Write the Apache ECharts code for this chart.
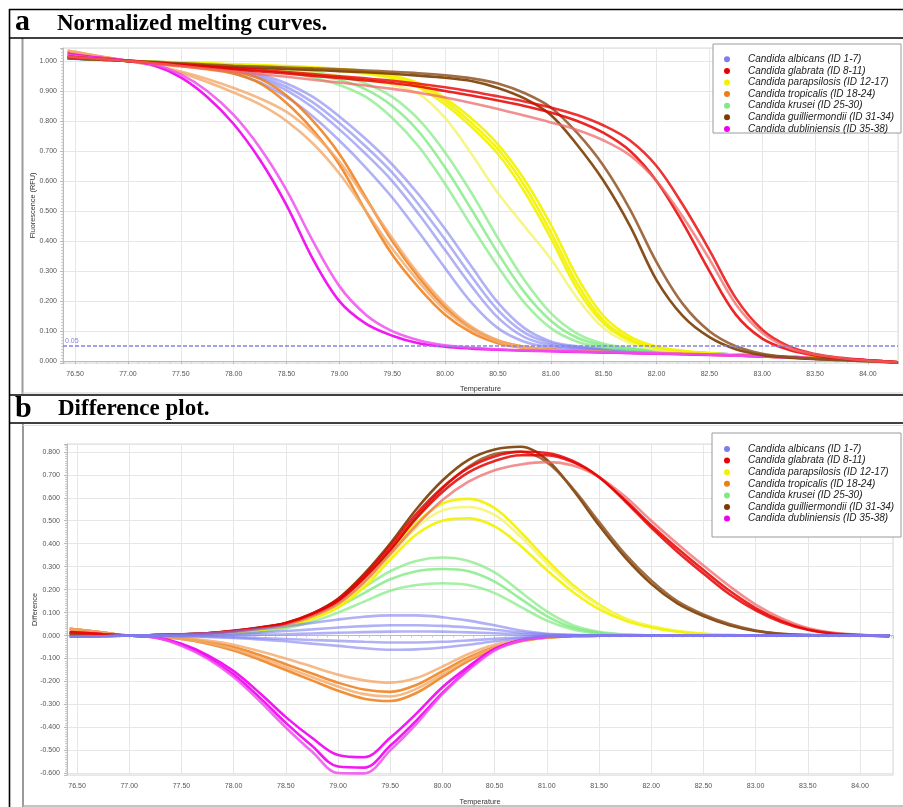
<!DOCTYPE html>
<html><head><meta charset="utf-8">
<script src="https://cdn.jsdelivr.net/npm/echarts@6/dist/echarts.min.js"></script>
<style>html,body{margin:0;padding:0;background:#fff}#c{width:903px;height:807px}</style>
</head><body><div id="c"></div>
<script>
// Temperature grid (°C)
const T = [76.43,76.5,76.75,77,77.25,77.5,77.75,78,78.25,78.5,78.75,79,79.25,79.5,79.75,80,80.25,80.5,80.75,81,81.25,81.5,81.75,82,82.25,82.5,82.75,83,83.25,83.5,83.75,84,84.28];

const NAMES = ['Candida albicans (ID 1-7)','Candida glabrata (ID 8-11)','Candida parapsilosis (ID 12-17)','Candida tropicalis (ID 18-24)','Candida krusei (ID 25-30)','Candida guilliermondii (ID 31-34)','Candida dubliniensis (ID 35-38)'];

// ---- Panel a: normalized melting curves (RFU) ----
const albA1 = [1.008,1.007,1.004,1.000,0.996,0.988,0.976,0.958,0.928,0.880,0.815,0.735,0.645,0.545,0.430,0.310,0.195,0.110,0.065,0.046,0.040,0.036,0.033,0.030,0.027,0.024,0.021,0.018,0.015,0.011,0.007,0.003,-0.004];
const albA2 = [1.008,1.007,1.004,1.000,0.997,0.990,0.980,0.966,0.942,0.902,0.845,0.772,0.690,0.600,0.490,0.370,0.250,0.145,0.080,0.053,0.043,0.038,0.034,0.031,0.028,0.025,0.022,0.018,0.015,0.011,0.007,0.003,-0.004];
const albA3 = [1.008,1.007,1.004,1.000,0.998,0.993,0.985,0.974,0.955,0.925,0.880,0.815,0.740,0.655,0.555,0.440,0.315,0.195,0.110,0.066,0.050,0.042,0.036,0.032,0.029,0.026,0.022,0.018,0.015,0.011,0.007,0.003,-0.004];
const albA4 = [1.008,1.007,1.004,1.000,0.997,0.991,0.982,0.970,0.948,0.913,0.862,0.793,0.715,0.628,0.522,0.405,0.282,0.170,0.095,0.060,0.047,0.040,0.035,0.031,0.028,0.025,0.022,0.018,0.015,0.011,0.007,0.003,-0.004];
const glaA1 = [1.015,1.012,1.006,1.000,0.993,0.986,0.979,0.972,0.965,0.958,0.950,0.943,0.935,0.926,0.915,0.900,0.885,0.868,0.850,0.828,0.800,0.760,0.700,0.600,0.460,0.300,0.155,0.075,0.038,0.019,0.009,0.002,-0.004];
const glaA2 = [1.015,1.012,1.006,1.000,0.994,0.988,0.982,0.976,0.970,0.963,0.956,0.949,0.942,0.934,0.924,0.912,0.898,0.882,0.865,0.845,0.820,0.785,0.735,0.650,0.520,0.370,0.210,0.105,0.050,0.024,0.011,0.003,-0.004];
const glaA3 = [1.015,1.012,1.006,1.000,0.992,0.983,0.974,0.965,0.956,0.947,0.937,0.928,0.918,0.907,0.894,0.878,0.860,0.840,0.818,0.795,0.770,0.735,0.685,0.600,0.480,0.340,0.190,0.095,0.045,0.022,0.010,0.002,-0.004];
const parA1 = [1.012,1.010,1.005,1.000,0.996,0.993,0.990,0.986,0.983,0.979,0.974,0.967,0.958,0.942,0.912,0.855,0.780,0.690,0.565,0.410,0.240,0.125,0.068,0.042,0.031,0.025,0.020,0.017,0.014,0.011,0.007,0.003,-0.004];
const parA2 = [1.012,1.010,1.005,1.000,0.995,0.990,0.985,0.980,0.975,0.968,0.960,0.950,0.937,0.920,0.890,0.810,0.690,0.560,0.450,0.340,0.210,0.110,0.060,0.038,0.028,0.022,0.018,0.015,0.012,0.009,0.006,0.002,-0.004];
const parA3 = [1.012,1.010,1.005,1.000,0.997,0.995,0.992,0.989,0.986,0.983,0.979,0.973,0.965,0.951,0.926,0.876,0.808,0.722,0.605,0.455,0.280,0.150,0.082,0.049,0.035,0.027,0.021,0.017,0.014,0.011,0.007,0.003,-0.004];
const parA4 = [1.012,1.010,1.005,1.000,0.996,0.994,0.991,0.988,0.985,0.981,0.976,0.970,0.962,0.947,0.920,0.866,0.793,0.706,0.585,0.430,0.258,0.135,0.073,0.045,0.033,0.026,0.020,0.017,0.014,0.011,0.007,0.003,-0.004];
const troA1 = [1.030,1.026,1.013,1.000,0.990,0.982,0.972,0.958,0.925,0.860,0.770,0.655,0.500,0.355,0.245,0.155,0.095,0.060,0.044,0.037,0.033,0.030,0.028,0.026,0.024,0.022,0.019,0.016,0.013,0.010,0.007,0.003,-0.004];
const troA2 = [1.030,1.026,1.013,1.000,0.991,0.984,0.976,0.965,0.940,0.885,0.800,0.690,0.545,0.400,0.280,0.180,0.110,0.068,0.048,0.039,0.034,0.031,0.029,0.027,0.025,0.022,0.019,0.016,0.013,0.010,0.007,0.003,-0.004];
const troA3 = [1.035,1.030,1.015,1.000,0.985,0.965,0.940,0.910,0.875,0.830,0.760,0.665,0.540,0.410,0.290,0.190,0.115,0.070,0.048,0.038,0.034,0.031,0.029,0.027,0.025,0.022,0.019,0.016,0.013,0.010,0.007,0.003,-0.004];
const troA4 = [1.035,1.030,1.015,1.000,0.983,0.960,0.930,0.895,0.855,0.800,0.725,0.625,0.500,0.375,0.265,0.170,0.105,0.065,0.045,0.037,0.033,0.030,0.028,0.026,0.024,0.022,0.019,0.016,0.013,0.010,0.007,0.003,-0.004];
const kruA1 = [1.010,1.008,1.004,1.000,0.996,0.992,0.988,0.983,0.977,0.968,0.955,0.937,0.905,0.850,0.765,0.645,0.505,0.360,0.230,0.135,0.078,0.052,0.041,0.035,0.030,0.026,0.022,0.018,0.015,0.011,0.007,0.003,-0.004];
const kruA2 = [1.010,1.008,1.004,1.000,0.995,0.990,0.985,0.978,0.971,0.962,0.945,0.920,0.880,0.810,0.715,0.590,0.450,0.315,0.195,0.110,0.065,0.046,0.038,0.033,0.029,0.025,0.021,0.018,0.015,0.011,0.007,0.003,-0.004];
const kruA3 = [1.010,1.008,1.004,1.000,0.997,0.994,0.991,0.987,0.982,0.975,0.965,0.948,0.925,0.880,0.805,0.695,0.560,0.410,0.270,0.160,0.092,0.058,0.044,0.036,0.031,0.026,0.022,0.018,0.015,0.011,0.007,0.003,-0.004];
const guiA1 = [1.010,1.008,1.004,1.000,0.995,0.990,0.985,0.980,0.977,0.973,0.970,0.966,0.962,0.957,0.951,0.944,0.933,0.910,0.875,0.820,0.720,0.600,0.450,0.270,0.150,0.080,0.040,0.021,0.012,0.007,0.004,0.000,-0.004];
const guiA2 = [1.010,1.008,1.004,1.000,0.996,0.992,0.988,0.984,0.981,0.978,0.975,0.972,0.968,0.964,0.959,0.952,0.942,0.925,0.893,0.845,0.760,0.650,0.505,0.330,0.190,0.100,0.050,0.025,0.014,0.008,0.004,0.000,-0.004];
const dubA1 = [1.025,1.020,1.010,1.000,0.985,0.945,0.880,0.790,0.670,0.520,0.340,0.200,0.125,0.085,0.060,0.048,0.042,0.038,0.035,0.033,0.031,0.029,0.027,0.025,0.023,0.021,0.019,0.016,0.013,0.010,0.007,0.003,-0.004];
const dubA2 = [1.020,1.017,1.008,1.000,0.988,0.955,0.900,0.820,0.710,0.570,0.400,0.250,0.155,0.100,0.070,0.053,0.045,0.040,0.036,0.034,0.032,0.030,0.028,0.026,0.024,0.022,0.019,0.016,0.013,0.010,0.007,0.003,-0.004];

// ---- Panel b: difference plot ----
const albB1 = [-0.005,-0.005,-0.003,0.000,0.002,0.005,0.010,0.018,0.028,0.040,0.055,0.070,0.082,0.088,0.088,0.080,0.065,0.045,0.022,0.008,0.003,0.001,0,0,0,0,0,0,0,0,0,0,0];
const albB2 = [-0.005,-0.005,-0.003,0.000,0.001,0.002,0.004,0.008,0.013,0.020,0.027,0.035,0.041,0.045,0.045,0.042,0.035,0.025,0.013,0.005,0.002,0.001,0,0,0,0,0,0,0,0,0,0,0];
const albB3 = [-0.005,-0.005,-0.003,0.000,0.000,0.000,0.001,0.002,0.004,0.006,0.009,0.012,0.015,0.017,0.018,0.017,0.014,0.010,0.005,0.002,0.001,0,0,0,0,0,0,0,0,0,0,0,0];
const albB4 = [-0.005,-0.005,-0.003,0.000,-0.001,-0.002,-0.004,-0.007,-0.011,-0.015,-0.019,-0.023,-0.027,-0.030,-0.030,-0.027,-0.021,-0.014,-0.007,-0.003,-0.001,0,0,0,0,0,0,0,0,0,0,0,0];
const albB5 = [-0.005,-0.005,-0.003,0.000,-0.001,-0.003,-0.006,-0.010,-0.017,-0.025,-0.035,-0.045,-0.055,-0.062,-0.060,-0.052,-0.040,-0.025,-0.012,-0.004,-0.001,0,0,0,0,0,0,0,0,0,0,0,0];
const glaB1 = [0.015,0.013,0.006,0.000,0.002,0.005,0.010,0.020,0.033,0.052,0.090,0.150,0.250,0.375,0.510,0.625,0.710,0.760,0.785,0.785,0.755,0.690,0.590,0.480,0.380,0.285,0.195,0.120,0.065,0.028,0.010,0.002,-0.003];
const glaB2 = [0.015,0.013,0.006,0.000,0.002,0.005,0.009,0.018,0.030,0.048,0.083,0.138,0.232,0.355,0.480,0.590,0.670,0.720,0.745,0.755,0.740,0.690,0.605,0.500,0.400,0.305,0.215,0.135,0.075,0.033,0.012,0.003,-0.003];
const glaB3 = [0.015,0.013,0.006,0.000,0.002,0.005,0.010,0.021,0.035,0.055,0.095,0.158,0.262,0.390,0.530,0.645,0.730,0.780,0.800,0.795,0.760,0.690,0.585,0.470,0.365,0.270,0.180,0.110,0.058,0.025,0.008,0.002,-0.003];
const parB1 = [0,0,0,0,0.001,0.004,0.008,0.015,0.027,0.045,0.080,0.135,0.230,0.360,0.490,0.575,0.595,0.555,0.450,0.330,0.220,0.135,0.075,0.040,0.020,0.008,0.003,0,0,0,0,0,0];
const parB2 = [0,0,0,0,0.001,0.004,0.008,0.014,0.026,0.043,0.077,0.130,0.222,0.345,0.470,0.545,0.560,0.525,0.430,0.315,0.210,0.130,0.072,0.038,0.019,0.008,0.003,0,0,0,0,0,0];
const parB3 = [0,0,0,0,0.001,0.003,0.007,0.013,0.024,0.040,0.072,0.122,0.210,0.330,0.440,0.500,0.510,0.475,0.390,0.285,0.190,0.115,0.065,0.035,0.017,0.007,0.002,0,0,0,0,0,0];
const troB1 = [0.030,0.026,0.013,0.000,-0.005,-0.012,-0.028,-0.050,-0.085,-0.125,-0.165,-0.205,-0.235,-0.245,-0.215,-0.155,-0.095,-0.050,-0.022,-0.008,-0.003,-0.001,0,0,0,0,0,0,0,0,0,0,0];
const troB2 = [0.030,0.026,0.013,0.000,-0.004,-0.010,-0.022,-0.040,-0.068,-0.100,-0.135,-0.170,-0.195,-0.205,-0.185,-0.135,-0.080,-0.040,-0.018,-0.006,-0.002,0,0,0,0,0,0,0,0,0,0,0,0];
const troB3 = [0.030,0.026,0.013,0.000,-0.006,-0.015,-0.035,-0.065,-0.105,-0.150,-0.195,-0.240,-0.275,-0.285,-0.250,-0.180,-0.110,-0.058,-0.025,-0.009,-0.003,-0.001,0,0,0,0,0,0,0,0,0,0,0];
const troB4 = [0.030,0.026,0.013,0.000,-0.005,-0.014,-0.032,-0.058,-0.095,-0.138,-0.180,-0.222,-0.255,-0.265,-0.232,-0.168,-0.102,-0.054,-0.023,-0.008,-0.003,-0.001,0,0,0,0,0,0,0,0,0,0,0];
const kruB1 = [0,0,0,0,0,0.002,0.005,0.010,0.020,0.040,0.075,0.125,0.185,0.245,0.280,0.290,0.280,0.235,0.160,0.085,0.035,0.012,0.004,0.001,0,0,0,0,0,0,0,0,0];
const kruB2 = [0,0,0,0,0,0.002,0.006,0.012,0.024,0.045,0.085,0.140,0.210,0.280,0.325,0.340,0.325,0.275,0.190,0.105,0.045,0.016,0.005,0.001,0,0,0,0,0,0,0,0,0];
const kruB3 = [0,0,0,0,0,0.002,0.004,0.008,0.016,0.032,0.060,0.100,0.148,0.195,0.220,0.228,0.220,0.185,0.125,0.065,0.027,0.009,0.003,0.001,0,0,0,0,0,0,0,0,0];
const guiB1 = [0.005,0.004,0.002,0.000,0.002,0.005,0.010,0.020,0.035,0.055,0.095,0.160,0.268,0.400,0.550,0.675,0.765,0.810,0.822,0.765,0.635,0.480,0.340,0.225,0.140,0.085,0.045,0.020,0.007,0.002,0,0,0];
const guiB2 = [0.005,0.004,0.002,0.000,0.002,0.005,0.010,0.019,0.033,0.052,0.090,0.150,0.250,0.370,0.515,0.640,0.735,0.790,0.800,0.755,0.640,0.495,0.355,0.240,0.150,0.092,0.050,0.022,0.008,0.002,0,0,0];
const dubB1 = [0.012,0.010,0.005,0.000,-0.008,-0.040,-0.095,-0.170,-0.270,-0.380,-0.480,-0.570,-0.575,-0.480,-0.370,-0.250,-0.145,-0.060,-0.020,-0.005,-0.001,0,0,0,0,0,0,0,0,0,0,0,0];
const dubB2 = [0.012,0.010,0.005,0.000,-0.007,-0.036,-0.085,-0.155,-0.250,-0.355,-0.445,-0.520,-0.530,-0.445,-0.340,-0.225,-0.135,-0.058,-0.020,-0.005,-0.001,0,0,0,0,0,0,0,0,0,0,0,0];
const dubB3 = [0.012,0.010,0.005,0.000,-0.009,-0.044,-0.100,-0.180,-0.285,-0.400,-0.505,-0.598,-0.600,-0.500,-0.385,-0.255,-0.150,-0.065,-0.022,-0.006,-0.001,0,0,0,0,0,0,0,0,0,0,0,0];

const THRESHOLD = 0.05;

const COL = {alb:'#7d7df0', gla:'#e80000', glaL:'#f06a6a', par:'#f2f200', parL:'#f4f46a', tro:'#ef7d14', troL:'#f2a96a', kru:'#7fea7f', gui:'#7a3c00', guiL:'#905424', dub:'#f000f0', dubL:'#f050f0'};

function mk(gi, name, arr, color, op, extra){
  const s = {type:'line', name:name, xAxisIndex:gi, yAxisIndex:gi,
    data: T.map((t,i)=>[t, arr[i]]), showSymbol:false, symbol:'none', smooth:0.35,
    color:color, itemStyle:{color:color}, lineStyle:{width:2.6, color:color, opacity:op},
    emphasis:{disabled:true}, silent:true, animation:false};
  return Object.assign(s, extra||{});
}

const seriesA = [
  mk(0, NAMES[0], albA1, COL.alb, 0.6, {markLine:{silent:true, symbol:['none','none'], animation:false,
      data:[{yAxis:THRESHOLD}], lineStyle:{color:'#8484e2', type:[4,2], width:1.5, opacity:1},
      label:{show:true, position:'insideStartTop', formatter:'0.05', color:'#8686e0', fontSize:7, fontFamily:'Liberation Sans', distance:2}}}),
  mk(0, NAMES[0], albA4, COL.alb, 0.6),
  mk(0, NAMES[0], albA2, COL.alb, 0.6),
  mk(0, NAMES[0], albA3, COL.alb, 0.6),
  mk(0, NAMES[4], kruA1, COL.kru, 0.8),
  mk(0, NAMES[4], kruA2, COL.kru, 0.7),
  mk(0, NAMES[4], kruA3, COL.kru, 0.7),
  mk(0, NAMES[2], parA1, COL.par, 0.9),
  mk(0, NAMES[2], parA2, COL.parL, 0.8),
  mk(0, NAMES[2], parA4, COL.par, 0.9),
  mk(0, NAMES[2], parA3, COL.par, 0.9),
  mk(0, NAMES[3], troA1, COL.tro, 0.85),
  mk(0, NAMES[3], troA2, COL.tro, 0.85),
  mk(0, NAMES[3], troA3, COL.troL, 0.8),
  mk(0, NAMES[3], troA4, COL.troL, 0.8),
  mk(0, NAMES[6], dubA1, COL.dub, 0.9),
  mk(0, NAMES[6], dubA2, COL.dubL, 0.85),
  mk(0, NAMES[5], guiA1, COL.gui, 0.9),
  mk(0, NAMES[5], guiA2, COL.guiL, 0.85),
  mk(0, NAMES[1], glaA1, COL.gla, 0.85),
  mk(0, NAMES[1], glaA2, COL.gla, 0.8),
  mk(0, NAMES[1], glaA3, COL.glaL, 0.75)
];
const seriesB = [
  mk(1, NAMES[4], kruB1, COL.kru, 0.8),
  mk(1, NAMES[4], kruB2, COL.kru, 0.7),
  mk(1, NAMES[4], kruB3, COL.kru, 0.7),
  mk(1, NAMES[2], parB1, COL.par, 0.9),
  mk(1, NAMES[2], parB2, COL.parL, 0.85),
  mk(1, NAMES[2], parB3, COL.par, 0.9),
  mk(1, NAMES[3], troB1, COL.tro, 0.85),
  mk(1, NAMES[3], troB2, COL.troL, 0.8),
  mk(1, NAMES[3], troB3, COL.tro, 0.85),
  mk(1, NAMES[3], troB4, COL.troL, 0.8),
  mk(1, NAMES[6], dubB1, COL.dub, 0.9),
  mk(1, NAMES[6], dubB2, COL.dub, 0.9),
  mk(1, NAMES[6], dubB3, COL.dubL, 0.85),
  mk(1, NAMES[5], guiB1, COL.gui, 0.9),
  mk(1, NAMES[5], guiB2, COL.guiL, 0.85),
  mk(1, NAMES[1], glaB1, COL.gla, 0.85),
  mk(1, NAMES[1], glaB2, COL.glaL, 0.75),
  mk(1, NAMES[1], glaB3, COL.gla, 0.85),
  mk(1, NAMES[0], albB1, COL.alb, 0.6),
  mk(1, NAMES[0], albB2, COL.alb, 0.6),
  mk(1, NAMES[0], albB3, COL.alb, 0.6),
  mk(1, NAMES[0], albB4, COL.alb, 0.6),
  mk(1, NAMES[0], albB5, COL.alb, 0.6)
];

const LBL = {fontSize:7, color:'#555', fontFamily:'Liberation Sans'};
function xAx(gi, min, max, gap){
  return {type:'value', gridIndex:gi, min:min, max:max, splitNumber:16,
    name:'Temperature', nameLocation:'middle', nameGap:gap,
    nameTextStyle:{fontSize:7.3, color:'#333', fontFamily:'Liberation Sans'},
    axisLabel:Object.assign({formatter:v=>v.toFixed(2), showMinLabel:false, showMaxLabel:false, margin:8}, LBL),
    axisLine:{show:true, lineStyle:{color:'#bbb'}}, axisTick:{show:true, length:3, lineStyle:{color:'#bbb'}},
    minorTick:{show:true, splitNumber:5, length:2, lineStyle:{color:'#ccc'}},
    splitLine:{show:true, lineStyle:{color:'#e6e6e6'}}};
}
function yAx(gi, min, max, split, name, gap, margin){
  return {type:'value', gridIndex:gi, min:min, max:max, splitNumber:split,
    name:name, nameLocation:'middle', nameGap:gap, nameRotate:90, nameMoveOverlap:false,
    nameTextStyle:{fontSize:7.3, color:'#333', fontFamily:'Liberation Sans'},
    axisLabel:Object.assign({formatter:v=>v.toFixed(3), showMinLabel:false, showMaxLabel:false, margin:margin}, LBL),
    axisLine:{show:true, lineStyle:{color:'#bbb'}}, axisTick:{show:true, length:3, lineStyle:{color:'#bbb'}},
    minorTick:{show:true, splitNumber:10, length:2, lineStyle:{color:'#ccc'}},
    splitLine:{show:true, lineStyle:{color:'#e6e6e6'}}};
}
function leg(top){
  return {data:NAMES, orient:'vertical', left:724, top:top, padding:0, itemGap:0,
    icon:'circle', itemWidth:32, itemHeight:6, selectedMode:false, z:10,
    textStyle:{fontSize:10, fontStyle:'italic', fontFamily:'Liberation Sans', color:'#222', lineHeight:11.6}};
}

const blk = {stroke:'#000', lineWidth:1.6};
const option = {
  backgroundColor:'#fff', animation:false,
  grid:[{left:63, top:48, width:835, height:315, show:true, borderColor:'#d8d8d8', borderWidth:1},
        {left:67, top:444, width:826, height:331, show:true, borderColor:'#d8d8d8', borderWidth:1}],
  xAxis:[xAx(0, 76.386, 84.284, 22), xAx(1, 76.404, 84.316, 23)],
  yAxis:[yAx(0, -0.006, 1.043, 10, 'Fluorescence (RFU)', 27, 6), yAx(1, -0.607, 0.834, 14, 'Difference', 29, 7)],
  legend:[leg(53.5), leg(443.2)],
  graphic:[
    {type:'rect', z:3, shape:{x:713, y:44, width:188, height:89}, style:{fill:'#fff', stroke:'#9a9a9a', lineWidth:1}},
    {type:'rect', z:3, shape:{x:712, y:433, width:189, height:104}, style:{fill:'#fff', stroke:'#9a9a9a', lineWidth:1}},
    {type:'line', z:20, shape:{x1:22.5, y1:38, x2:22.5, y2:394}, style:{stroke:'#9a9a9a', lineWidth:2}},
    {type:'line', z:20, shape:{x1:22, y1:393, x2:903, y2:393}, style:{stroke:'#cfcfcf', lineWidth:1}},
    {type:'line', z:20, shape:{x1:23, y1:424, x2:23, y2:807}, style:{stroke:'#9a9a9a', lineWidth:2}},
    {type:'line', z:20, shape:{x1:23, y1:425.5, x2:903, y2:425.5}, style:{stroke:'#e0e0e0', lineWidth:1}},
    {type:'line', z:20, shape:{x1:23, y1:806, x2:903, y2:806}, style:{stroke:'#b0b0b0', lineWidth:1.5}},
    {type:'line', z:21, shape:{x1:9, y1:9.5, x2:903, y2:9.5}, style:blk},
    {type:'line', z:21, shape:{x1:9, y1:38, x2:903, y2:38}, style:blk},
    {type:'line', z:21, shape:{x1:9, y1:395, x2:903, y2:395}, style:blk},
    {type:'line', z:21, shape:{x1:9, y1:423, x2:903, y2:423}, style:blk},
    {type:'line', z:21, shape:{x1:9.5, y1:9, x2:9.5, y2:807}, style:blk},
    {type:'text', z:21, style:{x:15, y:22, text:'a', font:'bold 30px "Liberation Serif"', fill:'#000', verticalAlign:'middle'}},
    {type:'text', z:21, style:{x:57, y:24, text:'Normalized melting curves.', font:'bold 23px "Liberation Serif"', fill:'#000', verticalAlign:'middle'}},
    {type:'text', z:21, style:{x:15, y:409, text:'b', font:'bold 30px "Liberation Serif"', fill:'#000', verticalAlign:'middle'}},
    {type:'text', z:21, style:{x:58, y:409.5, text:'Difference plot.', font:'bold 23px "Liberation Serif"', fill:'#000', verticalAlign:'middle'}}
  ],
  series: seriesA.concat(seriesB)
};
const chart = echarts.init(document.getElementById('c'), null, {renderer:'canvas'});
chart.setOption(option);
</script></body></html>
